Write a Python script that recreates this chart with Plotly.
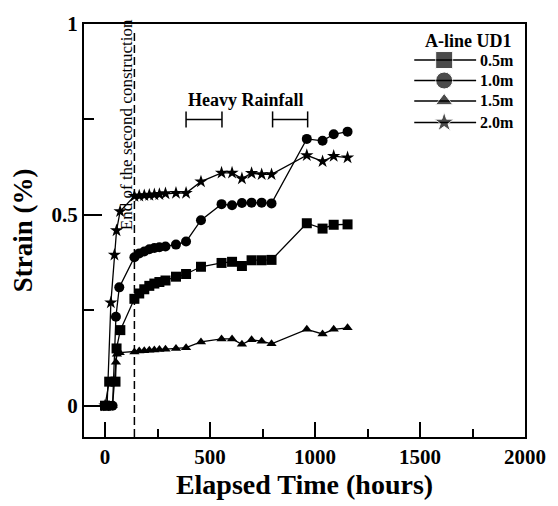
import plotly.graph_objects as go

# Elapsed time (hours) and strain (%) at each depth, A-line UD1
t_05 = [0, 20, 50, 55, 73, 140, 163, 187, 211, 235, 259, 288, 338, 386, 457, 555, 605, 652, 698, 746, 793, 961, 1036, 1089, 1155]
s_05 = [0, 0.063, 0.063, 0.15, 0.198, 0.28, 0.294, 0.305, 0.314, 0.32, 0.324, 0.328, 0.338, 0.345, 0.364, 0.374, 0.377, 0.366, 0.381, 0.381, 0.382, 0.478, 0.464, 0.474, 0.475]

t_10 = [0, 18, 36, 52, 68, 140, 163, 187, 211, 235, 259, 288, 338, 386, 457, 555, 605, 652, 698, 746, 793, 961, 1036, 1089, 1155]
s_10 = [0, 0, 0, 0.233, 0.31, 0.389, 0.399, 0.404, 0.41, 0.413, 0.415, 0.417, 0.422, 0.43, 0.486, 0.528, 0.525, 0.531, 0.532, 0.532, 0.53, 0.699, 0.694, 0.711, 0.718]

t_15 = [0, 18, 36, 52, 57, 70, 140, 163, 187, 211, 235, 259, 288, 338, 386, 457, 555, 605, 652, 698, 746, 793, 961, 1036, 1089, 1155]
s_15 = [0, 0, 0, 0.114, 0.135, 0.139, 0.141, 0.143, 0.144, 0.145, 0.146, 0.147, 0.148, 0.15, 0.152, 0.167, 0.175, 0.175, 0.161, 0.173, 0.169, 0.162, 0.2, 0.188, 0.2, 0.204]

t_20 = [0, 10, 28, 45, 55, 72, 140, 163, 187, 211, 235, 259, 288, 338, 386, 457, 555, 605, 652, 698, 746, 793, 961, 1036, 1089, 1155]
s_20 = [0, 0, 0.27, 0.395, 0.459, 0.509, 0.549, 0.55, 0.551, 0.552, 0.553, 0.554, 0.556, 0.557, 0.557, 0.587, 0.61, 0.61, 0.595, 0.609, 0.606, 0.606, 0.656, 0.64, 0.654, 0.65]

depth_labels = ["0.5m", "1.0m", "1.5m", "2.0m"]
symbols = ["square", "circle", "triangle-up", "star"]
marker_sizes = [10, 10, 9, 10]
legend_marker_sizes = [17, 17, 15, 15]

# Heavy rainfall periods (start, end hours) and end of construction
rain_periods = [(386, 557), (798, 965)]
rain_level = 0.75
construction_end = 140

series = [(t_05, s_05), (t_10, s_10), (t_15, s_15), (t_20, s_20)]

FONT = "Liberation Serif"
fig = go.Figure()

for (t, s), sym, ms in zip(series, symbols, marker_sizes):
    fig.add_trace(go.Scatter(
        x=t, y=s, mode="lines+markers",
        line=dict(color="black", width=1.3),
        marker=dict(symbol=sym, size=ms, color="black"),
        showlegend=False, hoverinfo="skip",
    ))

# Heavy rainfall interval bars with end caps
for a, b in rain_periods:
    fig.add_trace(go.Scatter(
        x=[a, b], y=[rain_level, rain_level], mode="lines",
        line=dict(color="black", width=1.5), showlegend=False, hoverinfo="skip",
    ))
    for xe in (a, b):
        fig.add_trace(go.Scatter(
            x=[xe, xe], y=[rain_level - 0.021, rain_level + 0.021], mode="lines",
            line=dict(color="black", width=1.5), showlegend=False, hoverinfo="skip",
        ))

# End of the second construction stage
fig.add_trace(go.Scatter(
    x=[construction_end, construction_end], y=[-0.082, 0.985], mode="lines",
    line=dict(color="black", width=1.5, dash="8px,4px"),
    showlegend=False, hoverinfo="skip",
))

# Hand-drawn key on an overlay axis measured in page pixels
key_rows = [53, 74, 95, 117]
for lbl, sym, ms, yr in zip(depth_labels, symbols, legend_marker_sizes, key_rows):
    fig.add_trace(go.Scatter(
        x=[415, 445, 477], y=[yr, yr, yr], mode="lines+markers",
        line=dict(color="black", width=1.5),
        marker=dict(symbol=sym, size=[0, ms, 0], color="black"),
        xaxis="x2", yaxis="y2", showlegend=False, hoverinfo="skip",
    ))
    fig.add_annotation(
        x=479, y=yr, xref="x2", yref="y2", text=f"<b>{lbl}</b>",
        showarrow=False, xanchor="left", yanchor="middle",
        font=dict(family=FONT, size=16, color="black"),
    )
fig.add_annotation(
    x=469, y=33, xref="x2", yref="y2", text="<b>A-line UD1</b>",
    showarrow=False, xanchor="center", yanchor="middle",
    font=dict(family=FONT, size=18, color="black"),
)

fig.add_annotation(
    x=673, y=0.80, xref="x", yref="y", text="<b>Heavy Rainfall</b>",
    showarrow=False, xanchor="center", yanchor="middle",
    font=dict(family=FONT, size=18, color="black"),
)
fig.add_annotation(
    x=100, y=0.735, xref="x", yref="y", text="End of the second construction",
    showarrow=False, textangle=-90, xanchor="center", yanchor="middle",
    font=dict(family=FONT, size=17, color="black"),
)

axis_common = dict(
    showline=True, linecolor="black", linewidth=2, mirror=True,
    ticks="inside", tickcolor="black", tickwidth=2,
    showgrid=False, zeroline=False,
    tickfont=dict(family=FONT, size=21, color="black"),
)

fig.update_layout(
    width=558, height=506,
    margin=dict(l=84, r=32, t=16, b=66),
    paper_bgcolor="white", plot_bgcolor="white",
    xaxis=dict(
        range=[-100, 2000], tickvals=[0, 500, 1000, 1500, 2000],
        ticktext=["<b>0</b>", "<b>500</b>", "<b>1000</b>", "<b>1500</b>", "<b>2000</b>"],
        ticklen=15,
        minor=dict(tickvals=[250, 750, 1250, 1750], ticklen=8, tickwidth=2, tickcolor="black", ticks="inside"),
        title=dict(text="<b>Elapsed Time (hours)</b>", font=dict(family=FONT, size=28, color="black"), standoff=5),
        **axis_common,
    ),
    yaxis=dict(
        range=[-0.082, 1.0], tickvals=[0, 0.5, 1],
        ticktext=["<b>0</b>", "<b>0.5</b>", "<b>1</b>"],
        ticklen=18,
        minor=dict(tickvals=[0.25, 0.75], ticklen=10, tickwidth=2, tickcolor="black", ticks="inside"),
        title=dict(text="<b>Strain (%)</b>", font=dict(family=FONT, size=27, color="black"), standoff=11),
        **axis_common,
    ),
    xaxis2=dict(range=[84, 526], overlaying="x", anchor="y2", visible=False, fixedrange=True),
    yaxis2=dict(range=[440, 16], overlaying="y", anchor="x2", visible=False, fixedrange=True),
)

fig.write_html("out.html")
